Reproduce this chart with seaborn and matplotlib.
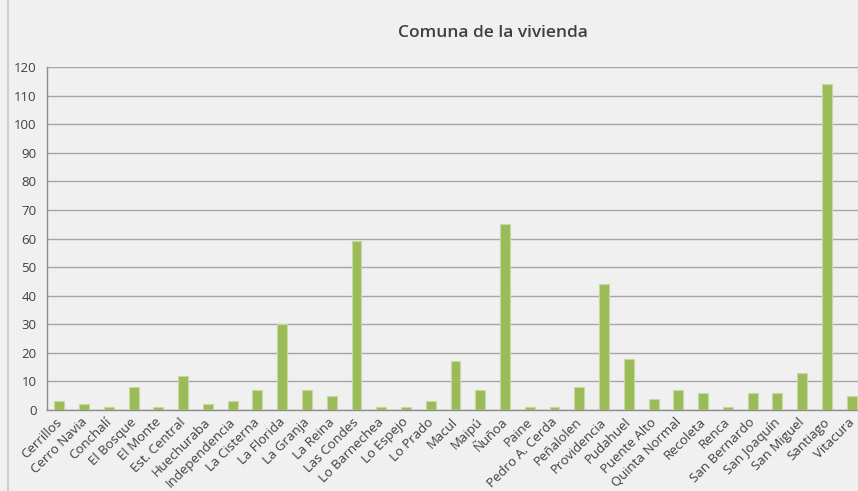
import matplotlib
matplotlib.use("Agg")
import matplotlib.pyplot as plt
import matplotlib.transforms as mtransforms
import seaborn as sns
import pandas as pd

comunas = ["Cerrillos", "Cerro Navia", "Conchalí", "El Bosque", "El Monte", "Est. Central",
           "Huechuraba", "Independencia", "La Cisterna", "La Florida", "La Granja", "La Reina",
           "Las Condes", "Lo Barnechea", "Lo Espejo", "Lo Prado", "Macul", "Maipú", "Ñuñoa",
           "Paine", "Pedro A. Cerda", "Peñalolen", "Providencia", "Pudahuel", "Puente Alto",
           "Quinta Normal", "Recoleta", "Renca", "San Bernardo", "San Joaquín", "San Miguel",
           "Santiago", "Vitacura"]
cantidad = [3, 2, 1, 8, 1, 12, 2, 3, 7, 30, 7, 5, 59, 1, 1, 3, 17, 7, 65, 1, 1, 8, 44, 18,
            4, 7, 6, 1, 6, 6, 13, 114, 5]

df = pd.DataFrame({"Comuna": comunas, "Cantidad": cantidad})

sns.set_style("white")
plt.rcParams["font.family"] = ["Open Sans", "DejaVu Sans"]

fig = plt.figure(figsize=(8.58, 4.91), dpi=100)
fig.patch.set_facecolor("#f0f0f0")
ax = fig.add_axes([47 / 858, 81 / 491, 817 / 858, 343 / 491])
ax.set_facecolor("#f0f0f0")

sns.barplot(data=df, x="Comuna", y="Cantidad", color="#9bbb59", width=0.4,
            edgecolor="#c5d9a0", linewidth=0.8, saturation=1, ax=ax, zorder=3)

ax.set_ylim(0, 120)
ax.set_yticks(range(0, 121, 10))
ax.set_xlim(-0.5, len(comunas) - 0.5)
ax.yaxis.grid(True, color="#a6a6a6", linewidth=1, zorder=0)
ax.set_xlabel("")
ax.set_ylabel("")

for side in ["top", "right"]:
    ax.spines[side].set_visible(False)
for side in ["left", "bottom"]:
    ax.spines[side].set_color("#8c8c8c")
    ax.spines[side].set_linewidth(1)

ax.set_xticks([i + 0.5 for i in range(-1, len(comunas))], minor=True)
ax.tick_params(axis="x", which="major", length=0, pad=4)
ax.tick_params(axis="x", which="minor", length=4, color="#8c8c8c", direction="out")
ax.tick_params(axis="y", length=4, color="#8c8c8c", direction="out", labelsize=9.5,
               labelcolor="#404040")
ax.set_xticks(range(len(comunas)))
ax.set_xticklabels(comunas, rotation=45, ha="right", rotation_mode="anchor",
                   fontsize=9.5, color="#404040")
shift = mtransforms.ScaledTranslation(-4 / 100, 0, fig.dpi_scale_trans)
for lab in ax.get_xticklabels():
    lab.set_transform(lab.get_transform() + shift)

fig.text(493 / 858, 1 - 33 / 491, "Comuna de la vivienda", ha="center", va="center",
         fontsize=12.5, fontweight="semibold", color="#404040")

fig.add_artist(plt.Line2D([8 / 858, 8 / 858], [0, 1], color="#d0d0d0", linewidth=1.5))

fig.savefig("out.png", dpi=100, facecolor=fig.get_facecolor())
